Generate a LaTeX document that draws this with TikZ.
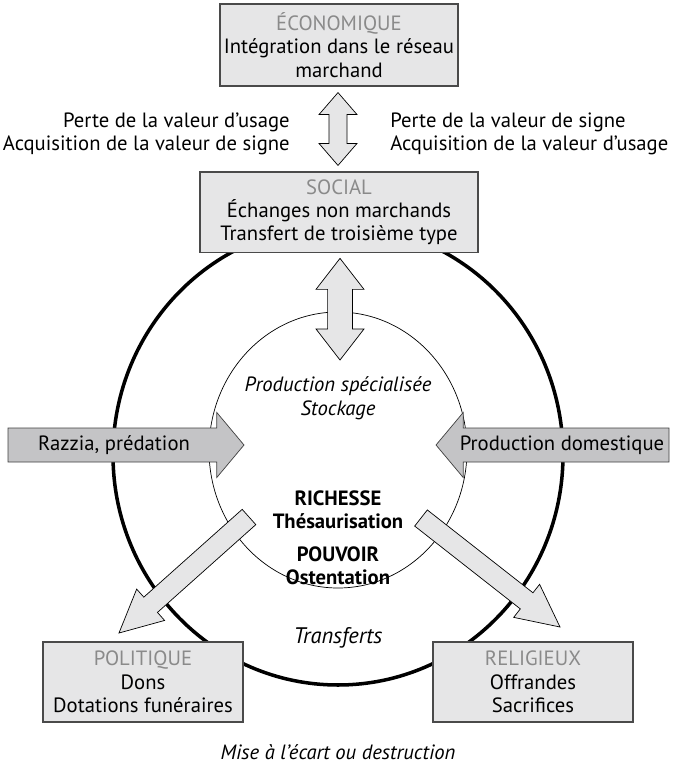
\documentclass[tikz,border=0pt]{standalone}
\usepackage{fontspec}
\setmainfont{PT Sans}
\usepackage{xcolor}
\usetikzlibrary{calc,positioning}

\definecolor{boxgray}{HTML}{E6E6E7}
\definecolor{arrowgray}{HTML}{C4C4C6}
\definecolor{titlegray}{HTML}{8A8A8A}
\definecolor{edgegray}{HTML}{4A4A4A}

% block arrow: [style]{tail}{tip}{half shaft}{half head}{head length}
\newcommand{\blockarrow}[6][]{%
  \coordinate (ah) at ($(#3)!#6!(#2)$);
  \draw[#1] ($(#2)!#4!90:(#3)$) -- ($(ah)!#4!90:(#3)$) -- ($(ah)!#5!90:(#3)$) -- (#3)
    -- ($(ah)!#5!-90:(#3)$) -- ($(ah)!#4!-90:(#3)$) -- ($(#2)!#4!-90:(#3)$) -- cycle;}

% double block arrow: [style]{end a}{end b}{half shaft}{half head}{head length}
\newcommand{\twinarrow}[6][]{%
  \coordinate (ha) at ($(#2)!#6!(#3)$);
  \coordinate (hb) at ($(#3)!#6!(#2)$);
  \draw[#1] (#2) -- ($(ha)!#5!-90:(#3)$) -- ($(ha)!#4!-90:(#3)$) -- ($(hb)!#4!-90:(#3)$)
    -- ($(hb)!#5!-90:(#3)$) -- (#3) -- ($(hb)!#5!90:(#3)$) -- ($(hb)!#4!90:(#3)$)
    -- ($(ha)!#4!90:(#3)$) -- ($(ha)!#5!90:(#3)$) -- cycle;}

\begin{document}
\begin{tikzpicture}[
    box/.style={rectangle, draw=edgegray, line width=0.8pt, fill=boxgray, align=center, inner sep=0pt, font=\fontsize{14.7}{16.6}\selectfont},
    txt/.style={align=center, inner sep=0pt, font=\fontsize{14.7}{16.6}\selectfont},
    light/.style={draw=black, line width=0.5pt, fill=boxgray, line join=miter},
    dark/.style={draw=black!75, line width=0.5pt, fill=arrowgray, line join=miter}
  ]
    \useasboundingbox (0,0) rectangle (16.925,-19.175);

    % --- CIRCLES ---
    \draw[line width=2.5pt] (8.45,-11.375) ellipse [x radius=5.625, y radius=5.75];
    \draw[line width=0.5pt, fill=white] (8.45,-11.25) ellipse [x radius=3.225, y radius=3.45];

    % --- BOXES ---
    \node[box, minimum width=5.95cm, minimum height=2.05cm] (eco) at (8.475,-1.125)
      {\textcolor{titlegray}{ÉCONOMIQUE}\\Intégration dans le réseau\\marchand};
    \node[box, minimum width=6.95cm, minimum height=2.02cm] (social) at (8.475,-5.31)
      {\textcolor{titlegray}{SOCIAL}\\Échanges non marchands\\Transfert de troisième type};
    \node[box, minimum width=5.0cm, minimum height=2.0cm] (pol) at (3.575,-17.05)
      {\textcolor{titlegray}{POLITIQUE}\\Dons\\Dotations funéraires};
    \node[box, minimum width=5.0cm, minimum height=2.0cm] (rel) at (13.325,-17.05)
      {\textcolor{titlegray}{RELIGIEUX}\\Offrandes\\Sacrifices};

    % --- ECONOMIQUE <-> SOCIAL ---
    \coordinate (ecotip) at ($(eco.south)+(-0.025,-0.15)$);
    \coordinate (soctip) at ($(social.north)+(-0.025,0.15)$);
    \twinarrow[light]{ecotip}{soctip}{0.225cm}{0.475cm}{0.55cm}
    \node[txt, align=right, anchor=east] (lossuse) at (7.25,-3.35)
      {Perte de la valeur d’usage\\Acquisition de la valeur de signe};
    \node[txt, align=left, anchor=west] (losssign) at (9.75,-3.35)
      {Perte de la valeur de signe\\Acquisition de la valeur d’usage};

    % --- SOCIAL <-> CORE ---
    \coordinate (soctop) at ($(social.south)+(0.025,-0.125)$);
    \coordinate (corein) at (8.5,-9.0);
    \twinarrow[light]{soctop}{corein}{0.31cm}{0.6cm}{0.775cm}

    % --- CORE ---
    \node[txt, font=\fontsize{14.7}{17}\selectfont\itshape] (prod) at (8.45,-9.95)
      {Production spécialisée\\Stockage};
    \node[txt, font=\fontsize{14.7}{16.6}\selectfont\bfseries] (wealth) at (8.45,-12.74)
      {RICHESSE\\Thésaurisation};
    \node[txt, font=\fontsize{14.7}{16.6}\selectfont\bfseries] (power) at (8.45,-14.14)
      {POUVOIR\\Ostentation};

    % --- INPUTS ---
    \coordinate (raztail) at (0.2,-11.125);
    \coordinate (raztip) at (6.1,-11.125);
    \blockarrow[dark]{raztail}{raztip}{0.425cm}{0.8125cm}{0.68cm}
    \node[txt] (razzia) at (2.85,-11.125) {Razzia, prédation};
    \coordinate (domtail) at (16.725,-11.125);
    \coordinate (domtip) at (10.9,-11.125);
    \blockarrow[dark]{domtail}{domtip}{0.425cm}{0.8125cm}{0.68cm}
    \node[txt] (domestic) at (14.05,-11.125) {Production domestique};

    % --- TRANSFERS ---
    \coordinate (poltail) at (6.225,-12.925);
    \coordinate (poltip) at (2.975,-15.825);
    \blockarrow[light]{poltail}{poltip}{0.256cm}{0.525cm}{1.06cm}
    \coordinate (reltail) at (10.525,-12.95);
    \coordinate (reltip) at (14.0,-15.675);
    \blockarrow[light]{reltail}{reltip}{0.256cm}{0.525cm}{1.06cm}
    \node[txt, font=\fontsize{16}{19}\selectfont\itshape] (transfers) at (8.45,-15.95) {Transferts};

    \node[txt, font=\fontsize{14.7}{16.6}\selectfont\itshape] (discard) at (8.45,-18.8)
      {Mise à l’écart ou destruction};
\end{tikzpicture}
\end{document}
